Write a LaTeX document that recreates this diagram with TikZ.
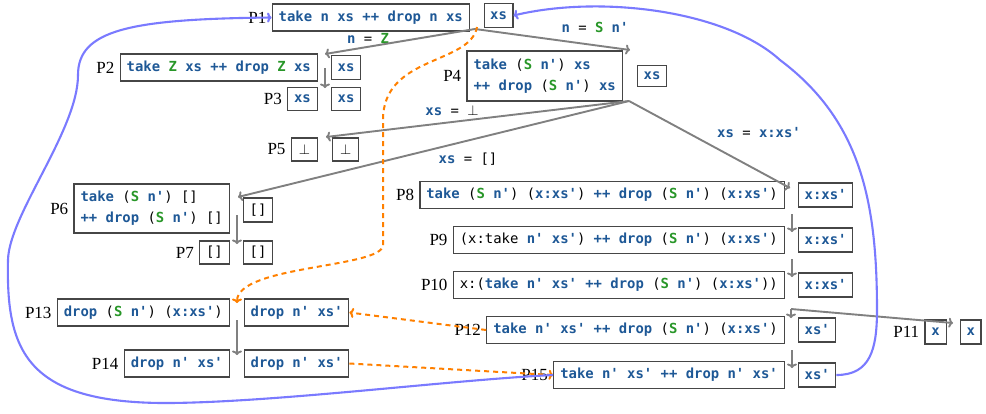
\documentclass[tikz,border=0pt]{standalone}
\usepackage{fontspec}
\setmonofont{DejaVu Sans Mono}
\newfontfamily\labelfont{Liberation Serif}
\usetikzlibrary{arrows.meta}
\definecolor{kwblue}{RGB}{30,88,150}
\definecolor{kwgreen}{RGB}{40,150,40}
\definecolor{boxgray}{RGB}{70,70,70}
\definecolor{arrowgray}{RGB}{128,128,128}
\definecolor{blueline}{RGB}{122,122,255}
\definecolor{orangeline}{RGB}{255,128,0}
\newcommand\kw[1]{\textcolor{kwblue}{\bfseries #1}}
\newcommand\kg[1]{\textcolor{kwgreen}{\bfseries #1}}
\newcommand\codefont{\ttfamily\fontsize{13.9}{21}\selectfont}
\tikzset{
  mainbox/.style={draw=boxgray, line width=1.3pt, inner xsep=6.5pt, inner ysep=0pt,
    minimum height=27pt, font=\codefont, anchor=east},
  statebox/.style={draw=boxgray, line width=1.3pt, inner xsep=6pt, inner ysep=0pt,
    minimum height=24pt, font=\codefont, anchor=west},
  smallbox/.style={mainbox, minimum height=23pt},
  plabel/.style={font=\labelfont\fontsize{17}{18}\selectfont, inner sep=0pt, left=5pt},
  elabel/.style={font=\codefont, inner sep=0pt},
  garrow/.style={draw=arrowgray, line width=1.9pt, -{To[length=4.5pt,width=10pt]}},
  bluecurve/.style={draw=blueline, line width=2.1pt, -{To[length=4.5pt,width=10pt]}},
  orangecurve/.style={draw=orangeline, line width=2pt, dash pattern=on 5pt off 4pt, -{To[length=4.5pt,width=10pt]}}
}
\begin{document}
\begin{tikzpicture}[x=1pt,y=-1pt]
\useasboundingbox (0,0) rectangle (986,413);

% boxes
\node[mainbox] (p1) at (470,17.5) {\kw{take n xs ++ drop n xs}};
\node[statebox] (p1s) at (483.5,15.5) {\kw{xs}};
\node[plabel] (l1) at (p1.west) {P1};

\node[mainbox] (p2) at (318,67.5) {\kw{take} \kg{Z} \kw{xs ++ drop} \kg{Z} \kw{xs}};
\node[statebox] (p2s) at (331,67.5) {\kw{xs}};
\node[plabel] (l2) at (p2.west) {P2};

\node[smallbox] (p3) at (318,99) {\kw{xs}};
\node[statebox, minimum height=23pt] (p3s) at (331,99) {\kw{xs}};
\node[plabel] (l3) at (p3.west) {P3};

\node[mainbox, minimum height=50pt, align=left] (p4) at (623,76) {\kw{take} (\kg{S} \kw{n'}) \kw{xs}\\\kw{++ drop} (\kg{S} \kw{n'}) \kw{xs}};
\node[statebox, minimum height=21pt] (p4s) at (637,76) {\kw{xs}};
\node[plabel] (l4) at (p4.west) {P4};

\node[smallbox, minimum width=26pt] (p5) at (318,149.5) {$\bot$};
\node[statebox, minimum height=23pt, minimum width=26pt] (p5s) at (332,149.5) {$\bot$};
\node[plabel] (l5) at (p5.west) {P5};

\node[mainbox, minimum height=49pt, align=left] (p6) at (230,208.5) {\kw{take} (\kg{S} \kw{n'}) {[]}\\\kw{++ drop} (\kg{S} \kw{n'}) {[]}};
\node[statebox] (p6s) at (243,210) {{[]}};
\node[plabel] (l6) at (p6.west) {P6};

\node[smallbox] (p7) at (230,252.5) {{[]}};
\node[statebox, minimum height=23pt] (p7s) at (243,252.5) {{[]}};
\node[plabel] (l7) at (p7.west) {P7};

\node[mainbox] (p8) at (785,195) {\kw{take} (\kg{S} \kw{n'}) (\kw{x:xs'}) \kw{++ drop} (\kg{S} \kw{n'}) (\kw{x:xs'})};
\node[statebox] (p8s) at (798,195) {\kw{x:xs'}};
\node[plabel] (l8) at (p8.west) {P8};

\node[mainbox] (p9) at (785,240) {(x:take \kw{n' xs'}) \kw{++ drop} (\kg{S} \kw{n'}) (\kw{x:xs'})};
\node[statebox] (p9s) at (798,240) {\kw{x:xs'}};
\node[plabel] (l9) at (p9.west) {P9};

\node[mainbox] (p10) at (785,285) {x:(\kw{take n' xs' ++ drop} (\kg{S} \kw{n'}) (\kw{x:xs'}))};
\node[statebox] (p10s) at (798,285) {\kw{x:xs'}};
\node[plabel] (l10) at (p10.west) {P10};

\node[mainbox] (p12) at (785,330) {\kw{take n' xs' ++ drop} (\kg{S} \kw{n'}) (\kw{x:xs'})};
\node[statebox] (p12s) at (798,330) {\kw{xs'}};
\node[plabel] (l12) at (p12.west) {P12};

\node[mainbox] (p15) at (785,375) {\kw{take n' xs' ++ drop n' xs'}};
\node[statebox] (p15s) at (798,375) {\kw{xs'}};
\node[plabel] (l15) at (p15.west) {P15};

\node[smallbox, minimum height=24pt] (p11) at (947,332) {\kw{x}};
\node[statebox] (p11s) at (960,332) {\kw{x}};
\node[plabel] (l11) at (p11.west) {P11};

\node[mainbox] (p13) at (230,312.5) {\kw{drop} (\kg{S} \kw{n'}) (\kw{x:xs'})};
\node[statebox, minimum height=27pt] (p13s) at (244,312.5) {\kw{drop n' xs'}};
\node[plabel] (l13) at (p13.west) {P13};

\node[mainbox] (p14) at (230,363.5) {\kw{drop n' xs'}};
\node[statebox, minimum height=27pt] (p14s) at (244,363.5) {\kw{drop n' xs'}};
\node[plabel] (l14) at (p14.west) {P14};

% edge labels
\node[elabel] (enz) at (368,38) {\kw{n} = \kg{Z}};
\node[elabel] (ens) at (595,27) {\kw{n} = \kg{S} \kw{n'}};
\node[elabel] (ebot) at (452,111) {\kw{xs} = $\bot$};
\node[elabel] (enil) at (468,159) {\kw{xs} = {[]}};
\node[elabel] (econs) at (759,133) {\kw{xs} = \kw{x:xs'}};

% gap coordinates
\coordinate (c1o) at (475,29);
\coordinate (c2i) at (325,54);
\coordinate (c4i) at (630,50);
\coordinate (c2o) at (325,68);
\coordinate (c3i) at (325,88);
\coordinate (c4o) at (629,101);
\coordinate (c5i) at (326,137);
\coordinate (c6i) at (238,197);
\coordinate (c8i) at (790,188);
\coordinate (c6o) at (237,215);
\coordinate (c7i) at (237,244);
\coordinate (c8o) at (792,214);
\coordinate (c9i) at (792,232);
\coordinate (c9o) at (792,259);
\coordinate (c10i) at (792,277);
\coordinate (c10o) at (791,309);
\coordinate (c12i) at (791,318);
\coordinate (c11i) at (953,323);
\coordinate (c12o) at (792,350);
\coordinate (c15i) at (792,368);
\coordinate (c13o) at (237,320);
\coordinate (c14i) at (237,355);
\coordinate (o1s) at (477,27);
\coordinate (c13i) at (237,303);

% gray arrows
\draw[garrow] (c1o) -- (c2i);
\draw[garrow] (c1o) -- (c4i);
\draw[garrow] (c2o) -- (c3i);
\draw[garrow] (c4o) -- (c5i);
\draw[garrow] (c4o) -- (c6i);
\draw[garrow] (c4o) -- (c8i);
\draw[garrow] (c6o) -- (c7i);
\draw[garrow] (c8o) -- (c9i);
\draw[garrow] (c9o) -- (c10i);
\draw[garrow] (c10o) -- (c12i);
\draw[garrow] (c10o) -- (c11i);
\draw[garrow] (c12o) -- (c15i);
\draw[garrow] (c13o) -- (c14i);

% orange dashed
\draw[orangecurve] (o1s) .. controls (470,65) and (383,55) .. (383,120) -- (383,245) .. controls (383,268) and (237,265) .. (c13i);
\draw[orangecurve] (p12.west) -- (p13s.east);
\draw[orangecurve] (p14s.east) -- (p15.west);

% blue curves
\draw[bluecurve] (p15.west) .. controls (450,380) and (280,402) .. (170,403) .. controls (25,404) and (6,350) .. (8,260) .. controls (9,215) and (78,130) .. (78,75) .. controls (78,30) and (130,19) .. (p1.west);
\draw[bluecurve] (p15s.east) .. controls (870,375) and (877,350) .. (877,310) .. controls (877,200) and (860,120) .. (780,60) .. controls (725,10) and (600,-5) .. (p1s.east);
\end{tikzpicture}
\end{document}
